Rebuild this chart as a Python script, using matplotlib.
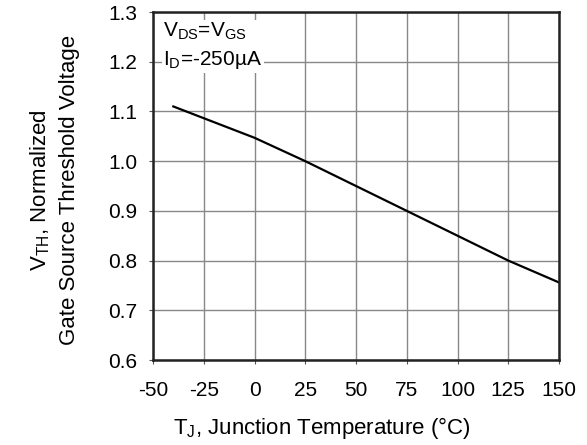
import numpy as np
import matplotlib.pyplot as plt

plt.rcParams['font.family'] = ['Liberation Sans', 'DejaVu Sans']
plt.rcParams['axes.unicode_minus'] = False
plt.rcParams['mathtext.fontset'] = 'custom'
plt.rcParams['mathtext.rm'] = 'Liberation Sans'
plt.rcParams['mathtext.it'] = 'Liberation Sans'

# Normalized threshold voltage vs junction temperature
temp_c = [-40, 0, 25, 50, 75, 100, 125, 150]
vth_norm = [1.11, 1.047, 1.0, 0.95, 0.90, 0.85, 0.80, 0.756]

x_ticks = [-50, -25, 0, 25, 50, 75, 100, 125, 150]
y_ticks = [0.6, 0.7, 0.8, 0.9, 1.0, 1.1, 1.2, 1.3]

W, H = 587, 445
fig = plt.figure(figsize=(W/100, H/100), dpi=100)
ax = fig.add_axes([153/W, 1 - 360/H, (559-153)/W, (360-12)/H])

ax.plot(temp_c, vth_norm, color='black', linewidth=1.6)

ax.set_xlim(-50, 150)
ax.set_ylim(0.6, 1.3)
ax.set_xticks(x_ticks)
ax.set_yticks(y_ticks)
ax.set_yticklabels(['%.1f' % v for v in y_ticks])
ax.grid(True, color='#888888', linewidth=1.0)
ax.set_axisbelow(True)
for s in ax.spines.values():
    s.set_linewidth(1.8)
    s.set_color('#222222')
ax.tick_params(labelsize=15, length=3, color='#555555')
ax.tick_params(axis='x', pad=12)
ax.tick_params(axis='y', pad=8)

fig.text(322/W, 1 - 428/H, 'T$_\\mathrm{J}$, Junction Temperature (°C)', fontsize=16,
         ha='center', va='center')
fig.text(40/W, 1 - 190/H, 'V$_\\mathrm{TH}$, Normalized', fontsize=16,
         rotation=90, ha='center', va='center')
fig.text(70/W, 1 - 190/H, 'Gate Source Threshold Voltage', fontsize=16,
         rotation=90, ha='center', va='center')

ax.text(0.025, 0.975, 'V$_\\mathrm{DS}$=V$_\\mathrm{GS}$\nI$_\\mathrm{D}$=-250µA',
        transform=ax.transAxes, va='top', ha='left', fontsize=15, linespacing=1.45,
        bbox=dict(facecolor='white', edgecolor='none', pad=1))

fig.savefig('out.png', dpi=100)
